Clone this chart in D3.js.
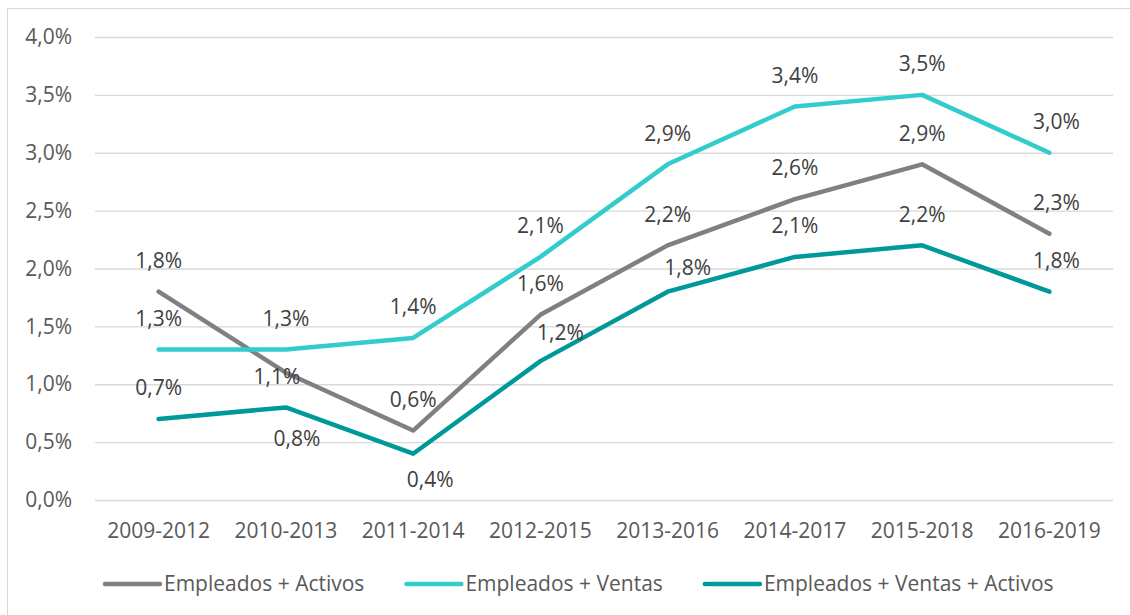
<!DOCTYPE html>
<html>
<head>
<meta charset="utf-8">
<script src="https://cdn.jsdelivr.net/npm/d3@7"></script>
<style>
  body { margin: 0; background: #fff; }
  svg { display: block; font-family: "Open Sans", sans-serif; }
</style>
</head>
<body>
<div id="chart"></div>
<script>
const periods = ["2009-2012", "2010-2013", "2011-2014", "2012-2015", "2013-2016", "2014-2017", "2015-2018", "2016-2019"];
const empleadosActivos = [1.8, 1.1, 0.6, 1.6, 2.2, 2.6, 2.9, 2.3];
const empleadosVentas = [1.3, 1.3, 1.4, 2.1, 2.9, 3.4, 3.5, 3.0];
const empleadosVentasActivos = [0.7, 0.8, 0.4, 1.2, 1.8, 2.1, 2.2, 1.8];
const yTicks = [0, 0.5, 1, 1.5, 2, 2.5, 3, 3.5, 4];

const series = [
  { name: "Empleados + Activos", values: empleadosActivos, color: "#808080" },
  { name: "Empleados + Ventas", values: empleadosVentas, color: "#33cccc" },
  { name: "Empleados + Ventas + Activos", values: empleadosVentasActivos, color: "#009999" },
];

// label placement tweaks (series index - point index -> [dx, dy]), default is above
const labelNudge = {
  "0-1": [-9, 4],
  "2-1": [11, 31],
  "2-2": [17, 26],
  "2-3": [20, -28],
  "2-4": [20, -24],
};

const W = 1130, H = 615;
const margin = { top: 37, right: 17, bottom: 115, left: 95 };

const fmt = (v) => v.toFixed(1).replace(".", ",") + "%";

const svg = d3.select("#chart").append("svg")
  .attr("width", W)
  .attr("height", H);

svg.append("rect")
  .attr("x", 7.5).attr("y", 8.5)
  .attr("width", W).attr("height", H)
  .attr("fill", "#fff")
  .attr("stroke", "#d9d9d9");

const x = d3.scaleBand()
  .domain(periods)
  .range([margin.left, W - margin.right]);

const y = d3.scaleLinear()
  .domain([0, 4])
  .range([H - margin.bottom, margin.top]);

// gridlines + y labels
const yAxis = svg.append("g")
  .attr("transform", `translate(${margin.left},0)`)
  .call(d3.axisLeft(y).tickValues(yTicks).tickFormat(fmt)
    .tickSize(-(W - margin.left - margin.right)).tickPadding(23))
  .call((g) => g.select(".domain").remove());
yAxis.selectAll(".tick line").attr("stroke", "#d9d9d9").attr("stroke-width", 1.3);
yAxis.selectAll(".tick text")
  .attr("fill", "#595959")
  .style("font-family", "'Open Sans', sans-serif")
  .style("font-size", "21px");

// x labels
const xAxis = svg.append("g")
  .attr("transform", `translate(0,${H - margin.bottom})`)
  .call(d3.axisBottom(x).tickSize(0).tickPadding(23))
  .call((g) => g.select(".domain").remove());
xAxis.selectAll(".tick text")
  .attr("fill", "#595959")
  .style("font-family", "'Open Sans', sans-serif")
  .style("font-size", "21px");

const cx = (i) => x(periods[i]) + x.bandwidth() / 2;

const line = d3.line()
  .x((d, i) => cx(i))
  .y((d) => y(d));

svg.append("g")
  .selectAll("path")
  .data(series)
  .join("path")
  .attr("d", (s) => line(s.values))
  .attr("fill", "none")
  .attr("stroke", (s) => s.color)
  .attr("stroke-width", 4.5)
  .attr("stroke-linecap", "round")
  .attr("stroke-linejoin", "round");

// data labels
const labels = svg.append("g")
  .attr("font-size", 21)
  .attr("fill", "#404040")
  .attr("text-anchor", "middle");

series.forEach((s, si) => {
  s.values.forEach((v, i) => {
    let [dx, dy] = labelNudge[`${si}-${i}`] || [0, -31];
    if (i === periods.length - 1) dx += 7;
    labels.append("text")
      .attr("x", cx(i) + dx)
      .attr("y", y(v) + dy)
      .attr("dy", "0.35em")
      .text(fmt(v));
  });
});

// legend
const legend = svg.append("g")
  .attr("transform", `translate(105,584)`);
let lx = 0;
series.forEach((s) => {
  legend.append("line")
    .attr("x1", lx).attr("x2", lx + 55)
    .attr("y1", 0).attr("y2", 0)
    .attr("stroke", s.color)
    .attr("stroke-width", 4.5)
    .attr("stroke-linecap", "round");
  const t = legend.append("text")
    .attr("x", lx + 59)
    .attr("y", 0)
    .attr("dy", "0.35em")
    .attr("font-size", 21)
    .attr("fill", "#595959")
    .text(s.name);
  lx += 59 + t.node().getComputedTextLength() + 42;
});
</script>
</body>
</html>
